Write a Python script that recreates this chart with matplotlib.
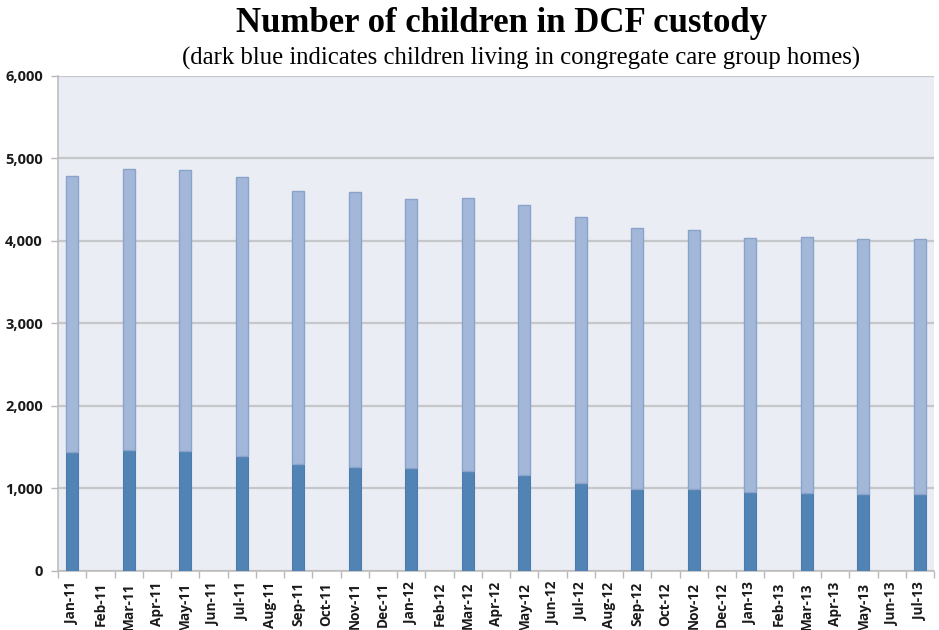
import matplotlib
matplotlib.use("Agg")
import matplotlib.pyplot as plt
import numpy as np

# categories: every month, bars only every other month
months = ["Jan-11", "Feb-11", "Mar-11", "Apr-11", "May-11", "Jun-11", "Jul-11", "Aug-11",
          "Sep-11", "Oct-11", "Nov-11", "Dec-11", "Jan-12", "Feb-12", "Mar-12", "Apr-12",
          "May-12", "Jun-12", "Jul-12", "Aug-12", "Sep-12", "Oct-12", "Nov-12", "Dec-12",
          "Jan-13", "Feb-13", "Mar-13", "Apr-13", "May-13", "Jun-13", "Jul-13"]

bar_months = ["Jan-11", "Mar-11", "May-11", "Jul-11", "Sep-11", "Nov-11", "Jan-12", "Mar-12",
              "May-12", "Jul-12", "Sep-12", "Nov-12", "Jan-13", "Mar-13", "May-13", "Jul-13"]

total_custody = [4786, 4868, 4860, 4776, 4605, 4595, 4509, 4521,
                 4436, 4291, 4163, 4137, 4040, 4052, 4028, 4028]

congregate_care = [1437, 1461, 1449, 1388, 1299, 1264, 1251, 1211,
                   1162, 1062, 996, 990, 961, 949, 930, 930]

y_ticks = [0, 1000, 2000, 3000, 4000, 5000, 6000]

dark_blue = "#5283B5"
light_blue = "#A3B7D8"

fig = plt.figure(figsize=(9.39, 6.3), dpi=100)
ax = fig.add_axes([0.0618, 0.0937, 0.9329, 0.7857])
ax.set_facecolor("#EAEDF3")

pos = [months.index(m) for m in bar_months]
rest = np.array(total_custody) - np.array(congregate_care)

ax.bar(pos, congregate_care, width=0.43, color=dark_blue, edgecolor="#4A7BAE",
       linewidth=0.8, zorder=3)
ax.bar(pos, rest, width=0.43, bottom=congregate_care, color=light_blue,
       edgecolor="#8AA3CB", linewidth=1.0, zorder=3)

ax.set_xlim(-0.5, len(months) - 0.5)
ax.set_ylim(0, 6000)

ax.set_yticks(y_ticks)
ax.set_yticklabels([f"{v:,}" for v in y_ticks])
ax.yaxis.grid(True, color="#C6C7CB", linewidth=1.6, zorder=0)

ax.set_xticks(range(len(months)))
ax.set_xticklabels(months, rotation=90)
ax.set_xticks(np.arange(-0.5, len(months), 1), minor=True)
ax.tick_params(axis="x", which="major", length=0, pad=8)
ax.tick_params(axis="x", which="minor", length=5, color="#B8B8B8", width=1)
ax.tick_params(axis="y", length=5, color="#B8B8B8", width=1, pad=6)

for lab in ax.get_xticklabels():
    lab.set_fontfamily("Open Sans")
    lab.set_fontweight("bold")
    lab.set_fontsize(9.8)
    lab.set_color("#1a1a1a")
for lab in ax.get_yticklabels():
    lab.set_fontfamily("Open Sans")
    lab.set_fontweight("bold")
    lab.set_fontsize(10.5)
    lab.set_color("#1a1a1a")

for name, spine in ax.spines.items():
    if name in ("left", "bottom"):
        spine.set_color("#BDBDBD")
        spine.set_linewidth(1.2)
    else:
        spine.set_visible(False)

fig.text(0.534, 0.962, "Number of children in DCF custody", ha="center", va="center",
         fontfamily="Liberation Serif", fontweight="bold", fontsize=25)
fig.text(0.555, 0.907, "(dark blue indicates children living in congregate care group homes)",
         ha="center", va="center", fontfamily="Liberation Serif", fontsize=17.8)

fig.savefig("out.png", dpi=100, facecolor="white")
